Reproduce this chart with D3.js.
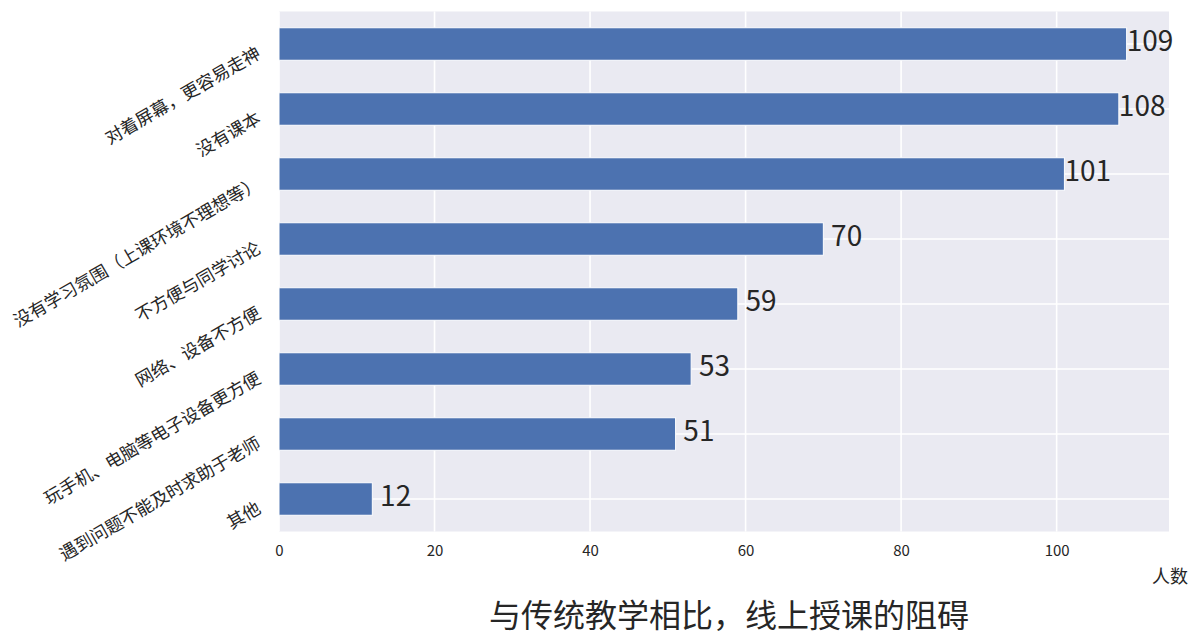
<!DOCTYPE html>
<html lang="zh">

<head>
    <meta charset="utf-8">
    <title>线上授课的阻碍</title>
    <script src="https://d3js.org/d3.v7.min.js"></script>
    <style>
        body {
            margin: 0;
            background: white;
        }

        text {
            font-family: "Noto Sans CJK SC", "Noto Sans", sans-serif;
            fill: #262626;
        }
    </style>
</head>

<body>
    <div id="chart"></div>

    <script>

        // data, top to bottom as in the picture
        const categories = [
            '对着屏幕，更容易走神',
            '没有课本',
            '没有学习氛围（上课环境不理想等）',
            '不方便与同学讨论',
            '网络、设备不方便',
            '玩手机、电脑等电子设备更方便',
            '遇到问题不能及时求助于老师',
            '其他'
        ];
        const counts = [109, 108, 101, 70, 59, 53, 51, 12];
        const xTicks = [0, 20, 40, 60, 80, 100];

        const titleText = '与传统教学相比，线上授课的阻碍';
        const xLabel = '人数';

        const svgWidth = 1200, svgHeight = 643;
        const plotLeft = 279, plotRight = 1169, plotTop = 11.5, plotBottom = 531.5;

        const svg = d3.select('#chart')
            .append('svg')
            .attr('width', svgWidth)
            .attr('height', svgHeight);

        const scaleX = d3.scaleLinear()
            .domain([0, d3.max(counts) * 1.05])
            .range([plotLeft, plotRight]);

        const scaleY = d3.scaleBand()
            .domain(categories)
            .range([plotTop, plotBottom])
            .paddingInner(0.5)
            .paddingOuter(0.25);

        // background
        svg.append('rect')
            .attr('x', plotLeft)
            .attr('y', plotTop)
            .attr('width', plotRight - plotLeft)
            .attr('height', plotBottom - plotTop)
            .attr('fill', '#eaeaf2');

        // grid
        svg.append('g')
            .selectAll('line')
            .data(xTicks)
            .join('line')
            .attr('x1', d => scaleX(d))
            .attr('x2', d => scaleX(d))
            .attr('y1', plotTop)
            .attr('y2', plotBottom)
            .attr('stroke', 'white')
            .attr('stroke-width', 1.6);

        svg.append('g')
            .selectAll('line')
            .data(categories)
            .join('line')
            .attr('x1', plotLeft)
            .attr('x2', plotRight)
            .attr('y1', d => scaleY(d) + scaleY.bandwidth() / 2)
            .attr('y2', d => scaleY(d) + scaleY.bandwidth() / 2)
            .attr('stroke', 'white')
            .attr('stroke-width', 1.6);

        // bars
        svg.append('g')
            .selectAll('rect')
            .data(counts)
            .join('rect')
            .attr('x', scaleX(0))
            .attr('y', (d, i) => scaleY(categories[i]))
            .attr('width', d => scaleX(d) - scaleX(0))
            .attr('height', scaleY.bandwidth())
            .attr('fill', '#4c72b0')
            .attr('stroke', 'white')
            .attr('stroke-width', 1);

        // value labels
        svg.append('g')
            .selectAll('text')
            .data(counts)
            .join('text')
            .attr('x', d => scaleX(d + 3))
            .attr('y', (d, i) => scaleY(categories[i]) + scaleY.bandwidth() / 2 + 7)
            .attr('text-anchor', 'middle')
            .style('font-size', '28px')
            .text(d => d);

        // x axis
        const xAxis = d3.axisBottom(scaleX)
            .tickValues(xTicks)
            .tickSize(0)
            .tickPadding(14);

        const xAxisG = svg.append('g')
            .attr('transform', 'translate(0,' + plotBottom + ')')
            .call(xAxis);
        xAxisG.select('.domain').remove();
        xAxisG.selectAll('text')
            .style('font-size', '15px')
            .style('font-family', '"Noto Sans CJK SC", sans-serif')
            .attr('fill', '#262626');

        // y tick labels, rotated 30deg, right/top of the rotated box at the tick
        const yLabelSize = 17.6;
        const angle = 30 * Math.PI / 180;
        const yLabels = svg.append('g')
            .selectAll('text')
            .data(categories)
            .join('text')
            .attr('text-anchor', 'middle')
            .attr('dominant-baseline', 'central')
            .style('font-size', yLabelSize + 'px')
            .text(d => d);

        yLabels.each(function (d) {
            const w = this.getComputedTextLength();
            const h = yLabelSize * 0.85;
            const boxW = w * Math.cos(angle) + h * Math.sin(angle);
            const boxH = w * Math.sin(angle) + h * Math.cos(angle);
            const cx = plotLeft - 17 - boxW / 2;
            const cy = scaleY(d) + scaleY.bandwidth() / 2 + boxH / 2;
            d3.select(this)
                .attr('transform', 'translate(' + cx + ',' + cy + ') rotate(-30)');
        });

        // axis label
        svg.append('text')
            .attr('x', 1188)
            .attr('y', 583)
            .attr('text-anchor', 'end')
            .style('font-size', '18px')
            .text(xLabel);

        // title
        svg.append('text')
            .attr('x', 729)
            .attr('y', 627)
            .attr('text-anchor', 'middle')
            .style('font-size', '32px')
            .text(titleText);

    </script>
</body>

</html>
